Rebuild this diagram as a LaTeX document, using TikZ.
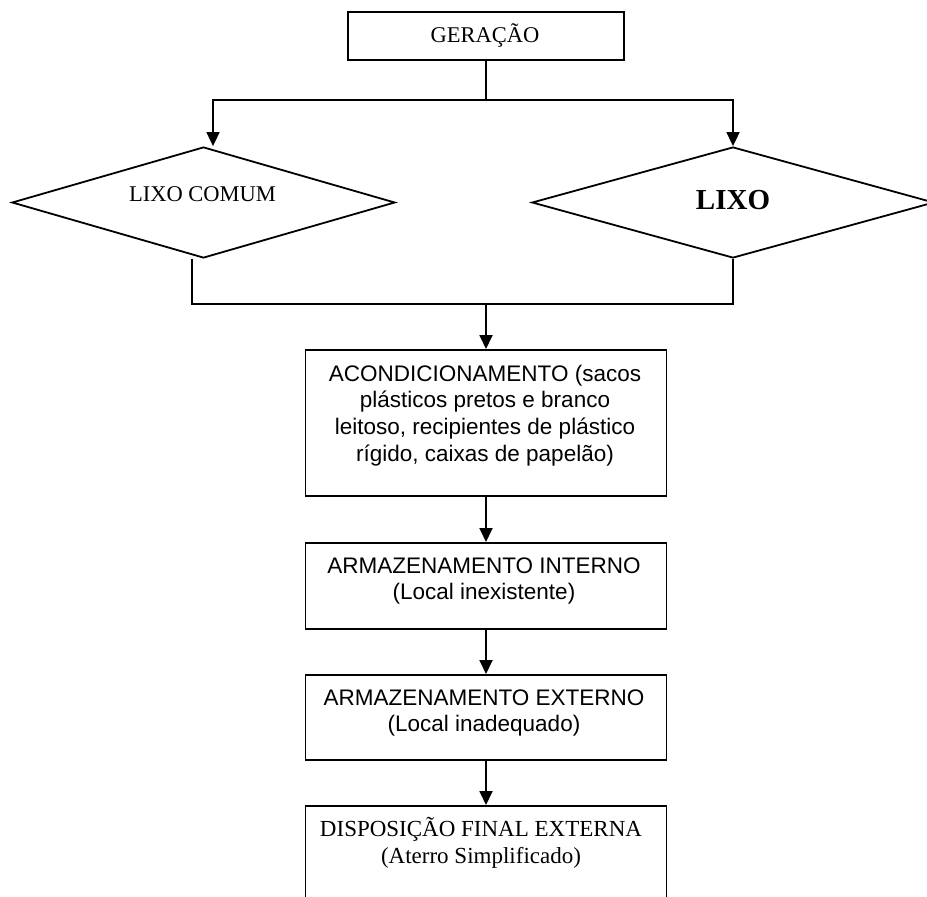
\documentclass[tikz,border=0pt]{standalone}
\usepackage{fontspec}
\setmainfont{Liberation Serif}
\newfontfamily\arialfont{Liberation Sans}
\usetikzlibrary{shapes.geometric,arrows.meta}
\begin{document}
\begin{tikzpicture}[x=1pt,y=-1pt,line width=1.8pt,
  box/.style={draw,rectangle,inner sep=0pt,minimum width=361pt,anchor=north},
  dia/.style={draw,diamond,inner sep=0pt,minimum height=111pt},
  serif/.style={inner sep=0pt,anchor=base,font=\fontsize{22.5pt}{26.7pt}\selectfont},
  sans/.style={inner sep=0pt,anchor=base,font=\arialfont\fontsize{22.5pt}{26.7pt}\selectfont},
  arr/.style={-{Triangle[length=14pt,width=13pt]}}]
\useasboundingbox (0,0) rectangle (927,897);
\clip (0,0) rectangle (927,897);
% boxes
\node[box,minimum width=276pt,minimum height=48pt] (ger) at (486,11) {};
\node[dia,minimum width=383pt] (ldia) at (203.5,202.5) {};
\node[dia,minimum width=402pt] (rdia) at (733,202.5) {};
\node[box,minimum height=146pt] (acond) at (486,349) {};
\node[box,minimum height=86pt] (intb) at (486,542) {};
\node[box,minimum height=85pt] (extb) at (486,674) {};
\node[box,minimum height=150pt] (disp) at (486,805) {};
% texts
\node[serif] (tger) at (485,42.5) {GERAÇÃO};
\node[serif] (tcomum) at (202.5,201.7) {LIXO COMUM};
\node[serif,font=\fontsize{29pt}{34pt}\selectfont\bfseries] (tlixo) at (733,209) {LIXO};
\node[sans] (ta1) at (485,381) {ACONDICIONAMENTO (sacos};
\node[sans] (ta2) at (485,407.7) {plásticos pretos e branco};
\node[sans] (ta3) at (485,434.3) {leitoso, recipientes de plástico};
\node[sans] (ta4) at (485,461) {rígido, caixas de papelão)};
\node[sans] (ti1) at (484,573) {ARMAZENAMENTO INTERNO};
\node[sans] (ti2) at (484,599.7) {(Local inexistente)};
\node[sans] (te1) at (484,705) {ARMAZENAMENTO EXTERNO};
\node[sans] (te2) at (484,731.7) {(Local inadequado)};
\node[serif,font=\fontsize{23pt}{26.7pt}\selectfont] (td1) at (481,836.7) {DISPOSIÇÃO FINAL EXTERNA};
\node[serif,font=\fontsize{23pt}{26.7pt}\selectfont] (td2) at (481,863.3) {(Aterro Simplificado)};
% connectors
\coordinate (split) at (486,100);
\coordinate (lsplit) at (213,100);
\coordinate (rsplit) at (733,100);
\coordinate (lj) at (192,304);
\coordinate (join) at (486,304);
\coordinate (rj) at (733,304);
\draw (ger.south) -- (split);
\draw[arr] (split) -- (lsplit) -- (lsplit |- ldia.north);
\draw[arr] (split) -- (rsplit) -- (rdia.north);
\draw (lj |- ldia.south) -- (lj) -- (rj) -- (rdia.south);
\draw[arr] (join) -- (acond.north);
\draw[arr] (acond.south) -- (intb.north);
\draw[arr] (intb.south) -- (extb.north);
\draw[arr] (extb.south) -- (disp.north);
\end{tikzpicture}
\end{document}
